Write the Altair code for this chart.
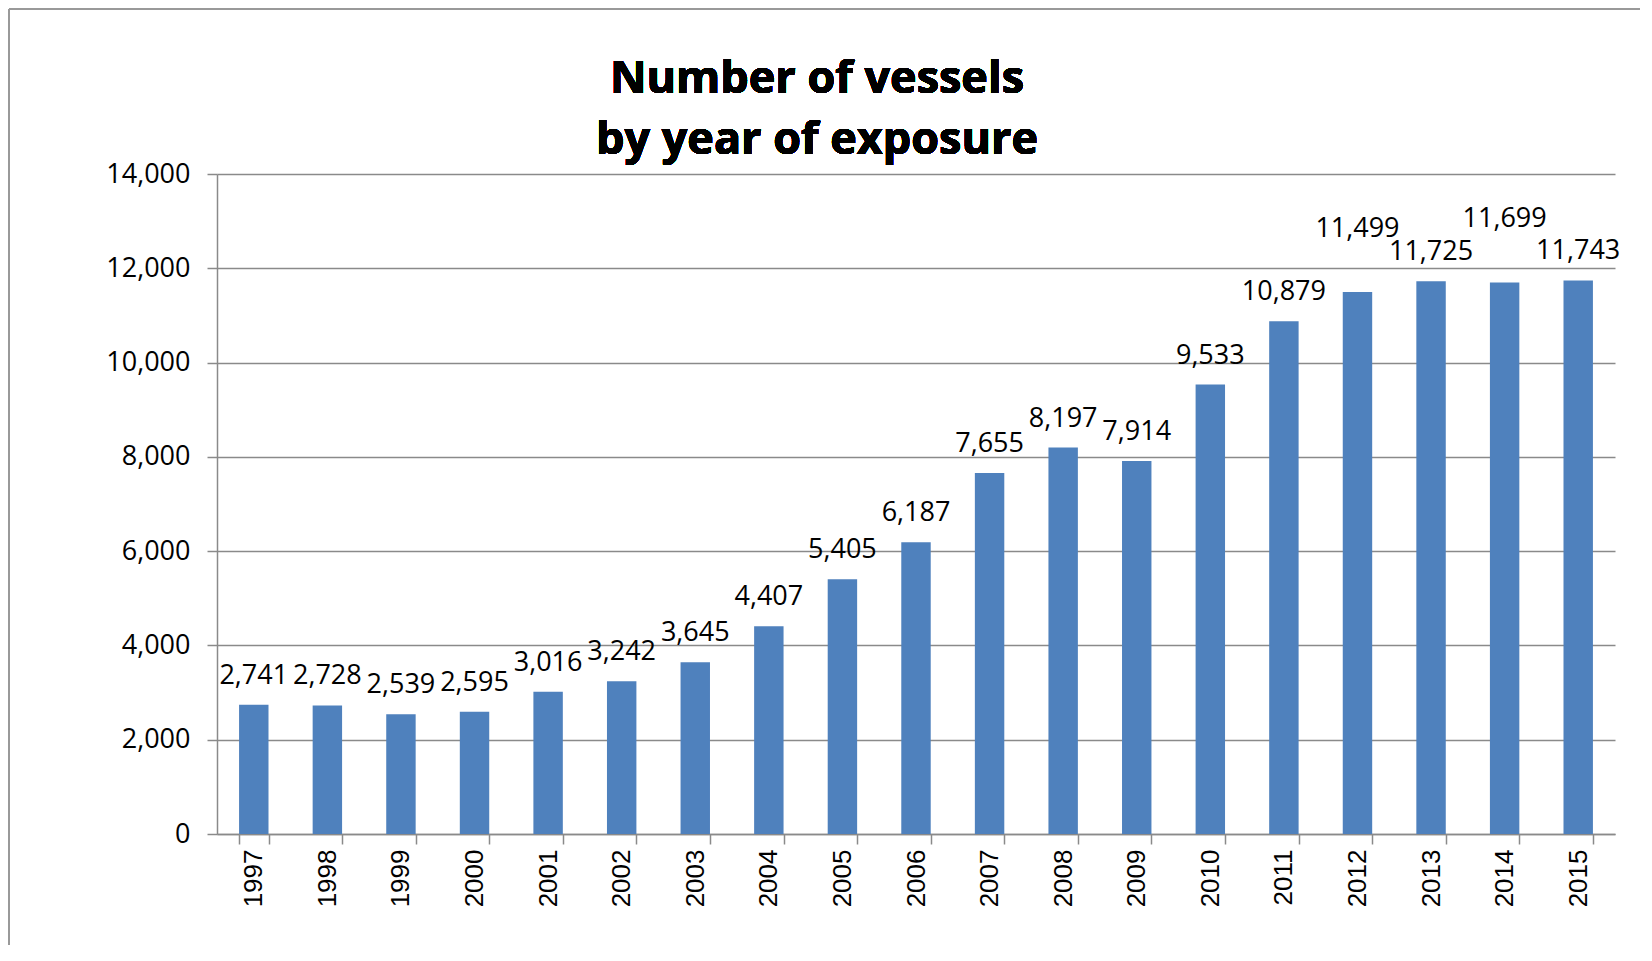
import altair as alt
import pandas as pd

years = ["1997", "1998", "1999", "2000", "2001", "2002", "2003", "2004", "2005", "2006",
         "2007", "2008", "2009", "2010", "2011", "2012", "2013", "2014", "2015"]
vessels = [2741, 2728, 2539, 2595, 3016, 3242, 3645, 4407, 5405, 6187,
           7655, 8197, 7914, 9533, 10879, 11499, 11725, 11699, 11743]
raised_labels = ["2012", "2014"]
y_ticks = [0, 2000, 4000, 6000, 8000, 10000, 12000, 14000]
title_lines = ["Number of vessels", "by year of exposure"]

df = pd.DataFrame({"year": years, "vessels": vessels})
df["raised"] = df["year"].isin(raised_labels)

W, H = 1398, 660
PAD_L, PAD_T, PAD_R, PAD_B = 209, 166, 25, 111
GRID = "#8a8a8a"

x = alt.X("year:N", sort=years, title=None,
          scale=alt.Scale(paddingInner=0.6, paddingOuter=0.3),
          axis=alt.Axis(labelAngle=-90, labelFont="Liberation Sans", labelFontSize=26,
                        labelColor="black", labelPadding=5, tickBand="extent",
                        tickSize=10, tickColor=GRID, tickWidth=1.5,
                        domainColor=GRID, domainWidth=1.5, grid=False, gridOpacity=0))
y = alt.Y("vessels:Q", title=None,
          scale=alt.Scale(domain=[0, 14000], nice=False),
          axis=alt.Axis(values=y_ticks, format=",d", labelFont="Open Sans",
                        labelFontSize=27, labelColor="black", labelPadding=17,
                        tickSize=10, tickColor=GRID, tickWidth=1.5,
                        domainColor=GRID, domainWidth=1.5,
                        grid=True, gridColor=GRID, gridWidth=1.5))

base = alt.Chart(df)

bars = base.mark_bar(color="#4F81BD").encode(x=x, y=y)

labels = base.transform_filter("!datum.raised").mark_text(
    font="Open Sans", fontSize=27, color="black", baseline="middle", dy=-29
).encode(x=x, y=y, text=alt.Text("vessels:Q", format=",d"))

labels_hi = base.transform_filter("datum.raised").mark_text(
    font="Open Sans", fontSize=27, color="black", baseline="middle", dy=-63
).encode(x=x, y=y, text=alt.Text("vessels:Q", format=",d"))

title_x = 817 - 8 - PAD_L
title1 = base.mark_text(text=title_lines[0], font="Open Sans", fontSize=45,
                        fontWeight="bold", color="black", baseline="middle",
                        align="center").encode(
    x=alt.value(title_x), y=alt.value(79 - 8 - PAD_T))
title2 = base.mark_text(text=title_lines[1], font="Open Sans", fontSize=45,
                        fontWeight="bold", color="black", baseline="middle",
                        align="center").encode(
    x=alt.value(title_x), y=alt.value(140 - 8 - PAD_T))

border_left = base.mark_rule(color="#999999", strokeWidth=2).encode(
    x=alt.value(-PAD_L + 1), y=alt.value(-PAD_T + 1), y2=alt.value(H + PAD_B))
border_top = base.mark_rule(color="#999999", strokeWidth=2).encode(
    x=alt.value(-PAD_L + 1), x2=alt.value(W + PAD_R), y=alt.value(-PAD_T + 1))

chart = alt.layer(bars, labels, labels_hi, title1, title2, border_left, border_top).properties(
    width=W, height=H,
    padding={"left": PAD_L, "top": PAD_T, "right": PAD_R, "bottom": PAD_B},
    autosize=alt.AutoSizeParams(type="none"),
    background="white",
).configure_view(stroke="transparent", strokeWidth=0, strokeOpacity=0)

chart.save("out.html", embed_options={"renderer": "svg", "actions": False})
